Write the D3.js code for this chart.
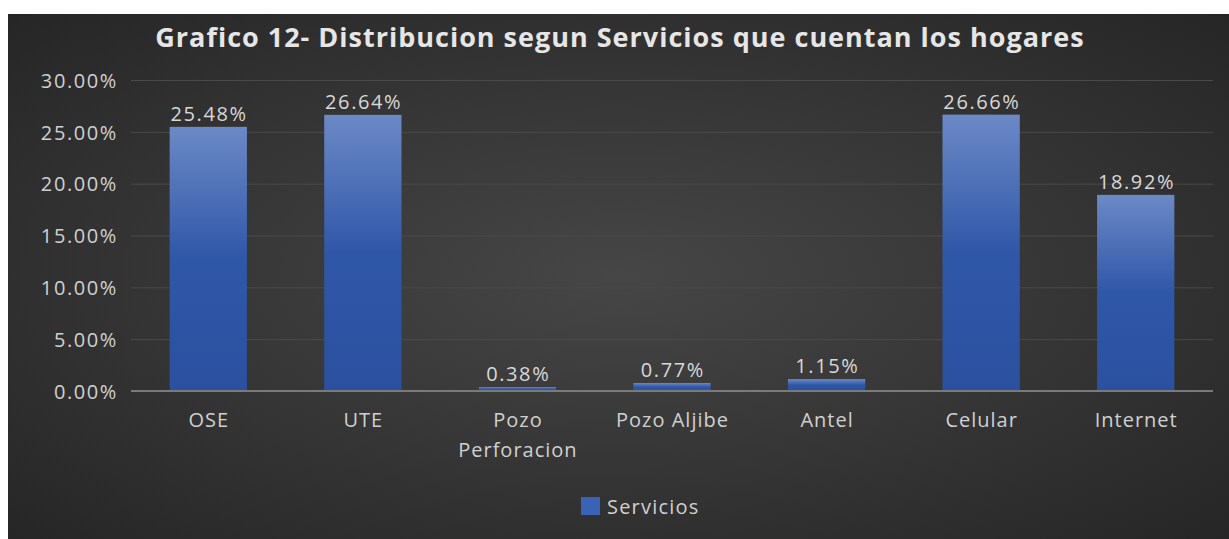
<!DOCTYPE html>
<html><head><meta charset="utf-8">
<script src="https://cdn.jsdelivr.net/npm/d3@7"></script>
<style>html,body{margin:0;padding:0;background:#fff;overflow:hidden}</style>
</head><body>
<svg id="chart" width="1229" height="539"></svg>
<script>
const categories = ["OSE", "UTE", "Pozo Perforacion", "Pozo Aljibe", "Antel", "Celular", "Internet"];
const categoryLines = [["OSE"], ["UTE"], ["Pozo", "Perforacion"], ["Pozo Aljibe"], ["Antel"], ["Celular"], ["Internet"]];
const values = [25.48, 26.64, 0.38, 0.77, 1.15, 26.66, 18.92];
const yTicks = [0, 5, 10, 15, 20, 25, 30];
const seriesName = "Servicios";
const titleText = "Grafico 12- Distribucion segun Servicios que cuentan los hogares";

const svg = d3.select("#chart");
const font = "'Open Sans', 'DejaVu Sans', sans-serif";
const defs = svg.append("defs");
const bg = defs.append("radialGradient").attr("id","bg").attr("cx","50%").attr("cy","50%").attr("r","70%");
bg.append("stop").attr("offset","0%").attr("stop-color","#464646");
bg.append("stop").attr("offset","100%").attr("stop-color","#262626");
const barGrad = defs.append("linearGradient").attr("id","bar").attr("x1",0).attr("y1",0).attr("x2",0).attr("y2",1);
barGrad.append("stop").attr("offset","0%").attr("stop-color","#6c89c6");
barGrad.append("stop").attr("offset","50%").attr("stop-color","#2f57a8");
barGrad.append("stop").attr("offset","100%").attr("stop-color","#2b50a0");

svg.append("rect").attr("x",8).attr("y",14).attr("width",1229-8).attr("height",539-14).attr("fill","url(#bg)");

const plotL = 131, plotR = 1213, plotT = 80, plotB = 391;
const x = d3.scaleBand().domain(categories).range([plotL, plotR]).paddingInner(0.5).paddingOuter(0.25);
const y = d3.scaleLinear().domain([0, 30]).range([plotB, plotT]);

svg.append("text").attr("x", 620).attr("y", 47).attr("text-anchor","middle")
  .attr("font-family", font).attr("font-weight","bold").attr("font-size", 27).attr("letter-spacing", 1)
  .attr("fill","#e6e6e6").text(titleText);

// gridlines + y labels
const yAxis = d3.axisLeft(y).tickValues(yTicks).tickSize(-(plotR-plotL)).tickFormat(d => d.toFixed(2) + "%");
const gy = svg.append("g").attr("transform", `translate(${plotL},0)`).call(yAxis);
gy.select(".domain").remove();
gy.selectAll(".tick line").attr("stroke", "#4a4a4a").attr("stroke-width", 1);
gy.selectAll(".tick text").attr("x", -13).attr("dy", "0.36em").attr("font-family", font).attr("font-size", 20)
  .attr("letter-spacing", 1.6).attr("fill","#d0d0d0");

// bars
svg.append("g").selectAll("rect").data(values).join("rect")
  .attr("x", (d,i) => x(categories[i])).attr("width", x.bandwidth())
  .attr("y", d => y(d)).attr("height", d => y(0) - y(d))
  .attr("fill", "url(#bar)");

// baseline
svg.append("line").attr("x1", plotL).attr("x2", plotR).attr("y1", y(0)).attr("y2", y(0))
  .attr("stroke", "#7a7a7a").attr("stroke-width", 2);

// value labels
svg.append("g").selectAll("text").data(values).join("text")
  .attr("x", (d,i) => x(categories[i]) + x.bandwidth()/2 + 0.8).attr("y", d => y(d) - 6)
  .attr("text-anchor","middle").attr("font-family", font).attr("font-size", 20).attr("letter-spacing", 1.6)
  .attr("fill","#d8d8d8")
  .text(d => d.toFixed(2) + "%");

// category labels
const xl = svg.append("g").selectAll("text").data(categories).join("text")
  .attr("y", 427)
  .attr("text-anchor","middle").attr("font-family", font).attr("font-size", 20).attr("letter-spacing", 1)
  .attr("fill","#d0d0d0");
xl.each(function(d,i){
  d3.select(this).selectAll("tspan").data(categoryLines[i]).join("tspan")
    .attr("x", x(d) + x.bandwidth()/2 + 0.5).attr("dy", (t,j) => j === 0 ? 0 : 30).text(t => t);
});

// legend
svg.append("rect").attr("x", 581).attr("y", 497).attr("width", 19).attr("height", 18).attr("fill","#3a62b5");
svg.append("text").attr("x", 607).attr("y", 514).attr("font-family", font).attr("font-size", 20).attr("letter-spacing", 1.2)
  .attr("fill","#d0d0d0").text(seriesName);
</script>
</body></html>
